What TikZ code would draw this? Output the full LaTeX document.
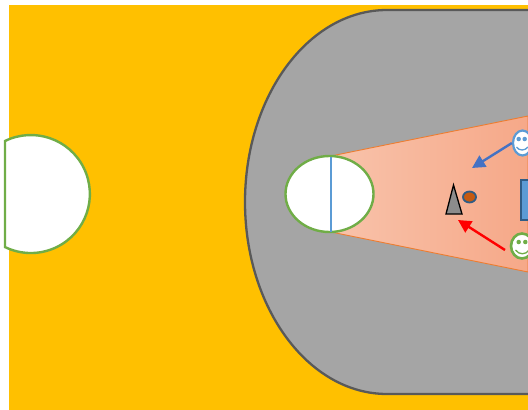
\documentclass[tikz,border=0pt]{standalone}
\usetikzlibrary{arrows.meta,shapes.geometric}
\definecolor{bgyellow}{HTML}{FFC000}
\definecolor{zonegray}{HTML}{A5A5A5}
\definecolor{zoneline}{HTML}{595959}
\definecolor{ringgreen}{HTML}{70AD47}
\definecolor{faceblue}{HTML}{5B9BD5}
\definecolor{conelight}{HTML}{F8C3AB}
\definecolor{conedark}{HTML}{F6A888}
\definecolor{coneline}{HTML}{ED7D31}
\definecolor{darkblue}{HTML}{2F5C85}
\definecolor{arrowblue}{HTML}{4472C4}
\definecolor{ballfill}{HTML}{C55A11}
\tikzset{
  hole/.style={draw=ringgreen, line width=2.4pt, fill=white},
  face/.style={ellipse, fill=white, line width=2.2pt, inner sep=0pt},
  eye/.style={circle, inner sep=0pt, minimum size=4.5pt},
  pass/.style={-{Triangle[length=13pt,width=13pt]}, line width=2.4pt}
}
\begin{document}
\begin{tikzpicture}[x=1pt, y=-1pt]
  \useasboundingbox (0,0) rectangle (528,410);
  \clip (0,0) rectangle (528,410);
  % ground and zone
  \fill[bgyellow] (9,5) rectangle (528,410);
  \draw[draw=zoneline, fill=zonegray, line width=2.3pt] (540,10) -- (387,10)
    arc[start angle=-90, end angle=-270, x radius=142, y radius=192] -- (540,394);
  % view cone
  \coordinate (conetop) at (331,156);
  \coordinate (conebot) at (331,232);
  \shade[left color=conelight, right color=conedark, draw=coneline, line width=0.9pt]
    (conetop) -- (528,116) -- (528,272) -- (conebot) -- cycle;
  % holes
  \node[hole, ellipse, minimum width=88pt, minimum height=76pt, inner sep=0pt] (ring) at (329.5,194) {};
  \draw[faceblue, line width=1.1pt] (331,157) -- (331,232);
  \draw[hole] (5,141) arc[start angle=-116, end angle=116, radius=59] -- cycle;
  % player and ball
  \draw[black, fill=gray!90, line width=1.3pt] (453.5,185) -- (462,214) -- (446,214) -- cycle;
  \node[ellipse, draw=darkblue, fill=ballfill, line width=1.8pt, minimum width=13pt, minimum height=11pt, inner sep=0pt] (ball) at (469.5,197) {};
  \draw[draw=darkblue, fill=faceblue, line width=2pt] (521,180) rectangle (540,220);
  % faces
  \node[face, draw=faceblue, minimum width=19pt, minimum height=25pt] (blueface) at (522.5,143) {};
  \node[face, draw=ringgreen, line width=2.6pt, minimum width=22pt, minimum height=25pt] (greenface) at (522,246) {};
  \node[eye, fill=faceblue] at (518.7,139) {};
  \node[eye, fill=faceblue] at (524.7,139) {};
  \node[eye, fill=ringgreen] at (518.7,242) {};
  \node[eye, fill=ringgreen] at (525.3,242) {};
  \draw[faceblue, line width=1.3pt] (516.5,147) .. controls (519,151) and (525,151) .. (528,147);
  \draw[ringgreen, line width=1.3pt] (515.5,250) .. controls (519,255) and (526,255) .. (529,250);
  % arrows
  \coordinate (bluetip) at (472,168);
  \coordinate (redtip) at (458,220);
  \draw[pass, arrowblue] (blueface.west) -- (bluetip);
  \draw[pass, red] (505,250) -- (redtip);
\end{tikzpicture}
\end{document}
